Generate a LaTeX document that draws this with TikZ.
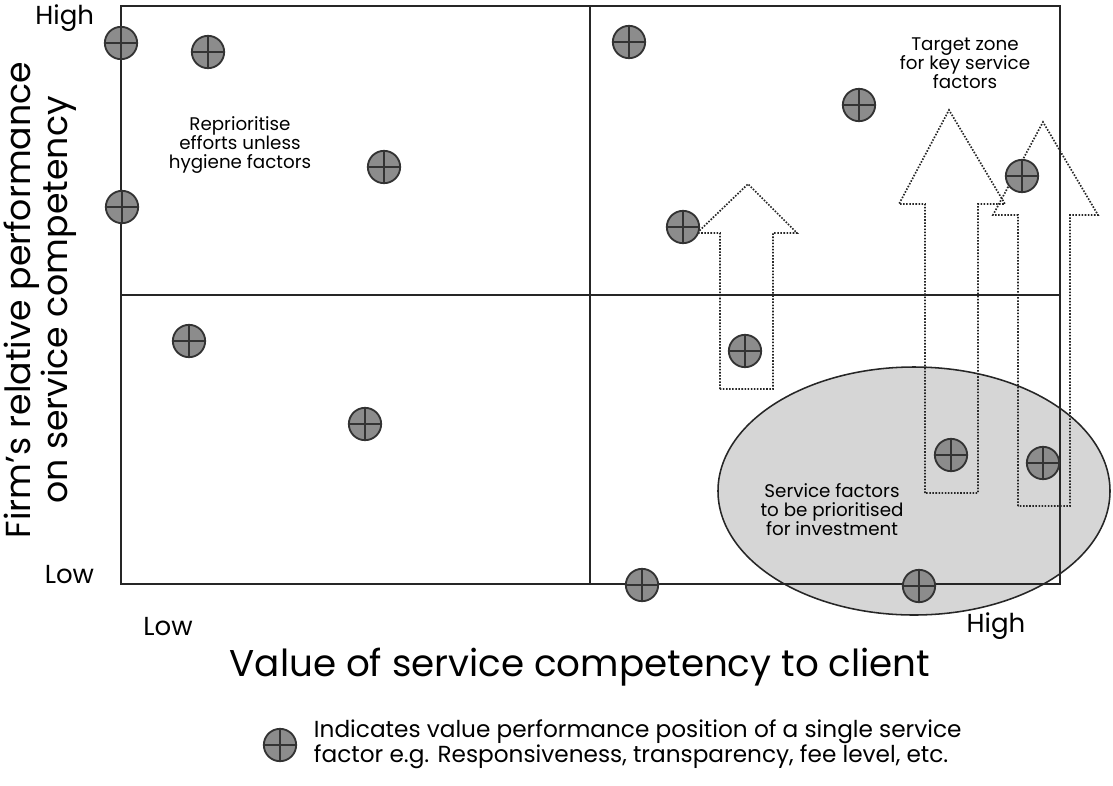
\documentclass[tikz,border=0pt]{standalone}
\usepackage{fontspec}
\setmainfont{Poppins}
\begin{document}
\begin{tikzpicture}[x=0.025cm,y=-0.025cm,
    factor/.style={circle,draw=black!80,line width=1.3pt,fill=black!45,minimum size=23pt,inner sep=0pt,
      path picture={\draw[line width=1pt,black!80] (path picture bounding box.north) -- (path picture bounding box.south)
        (path picture bounding box.west) -- (path picture bounding box.east);}},
    zone/.style={draw=black!85,line width=1.2pt,dash pattern=on 1.1pt off 1.1pt},
    note/.style={align=center,font=\fontsize{13}{13.5}\selectfont},
    axis/.style={font=\fontsize{18.5}{20}\selectfont},
    title/.style={font=\fontsize{26.5}{28}\selectfont}]
    \useasboundingbox (0,0) rectangle (1113,785);

    % invest zone
    \filldraw[fill=black!16,draw=black!85,line width=1.1pt] (914,491) ellipse [x radius=196,y radius=-124];

    % quadrants
    \draw[black!85,line width=1.4pt] (121,6) rectangle (1060,584);
    \draw[black!85,line width=1.4pt] (590,6) -- (590,584);
    \draw[black!85,line width=1.4pt] (121,295) -- (1060,295);

    % dotted arrows
    \draw[zone] (720,389) -- (720,233) -- (697,233) -- (748,184) -- (797,233) -- (773,233) -- (773,389) -- cycle;
    \draw[zone] (925,493) -- (925,204) -- (899,204) -- (949,110) -- (1005,204) -- (978,204) -- (978,493) -- cycle;
    \draw[zone] (1018,506) -- (1018,215) -- (993,215) -- (1043,122) -- (1098,215) -- (1070,215) -- (1070,506) -- cycle;

    % left half
    \node[factor] (f1) at (121,43) {};
    \node[factor] (f2) at (208,52) {};
    \node[factor] (f3) at (384,167) {};
    \node[factor] (f4) at (122,207) {};
    \node[factor] (f5) at (189,341) {};
    \node[factor] (f6) at (365,424) {};
    % right half
    \node[factor] (f7) at (629,42) {};
    \node[factor] (f8) at (859,105) {};
    \node[factor] (f9) at (1022,176) {};
    \node[factor] (f10) at (683,227) {};
    \node[factor] (f11) at (745,351) {};
    \node[factor] (f12) at (951,455) {};
    \node[factor] (f13) at (1043,463) {};
    \node[factor] (f14) at (642,585) {};
    \node[factor] (f15) at (919,586) {};

    % notes
    \node[note] (reprio) at (240,145) {Reprioritise\\efforts unless\\hygiene factors};
    \node[note] (target) at (965,63) {Target zone\\for key service\\factors};
    \node[note] (invest) at (832,510) {Service factors\\to be prioritised\\for investment};

    % axes
    \node[axis,anchor=east] (yhigh) at (99,18) {High};
    \node[axis,anchor=east] (ylow) at (99,575) {Low};
    \node[axis] (xlow) at (168,627) {Low};
    \node[axis] (xhigh) at (996,626) {High};
    \node[title,rotate=90,align=center,font=\fontsize{24.7}{24.5}\selectfont] (ylabel) at (40,300) {Firm’s relative performance\\on service competency};
    \node[title] (xlabel) at (580,667) {Value of service competency to client};

    % legend
    \node[factor] (key) at (280,745) {};
    \node[anchor=west,align=left,font=\fontsize{16.5}{16.5}\selectfont] (keytext) at (309,744) {Indicates value performance position of a single service\\factor e.g. Responsiveness, transparency, fee level, etc.};
\end{tikzpicture}
\end{document}
